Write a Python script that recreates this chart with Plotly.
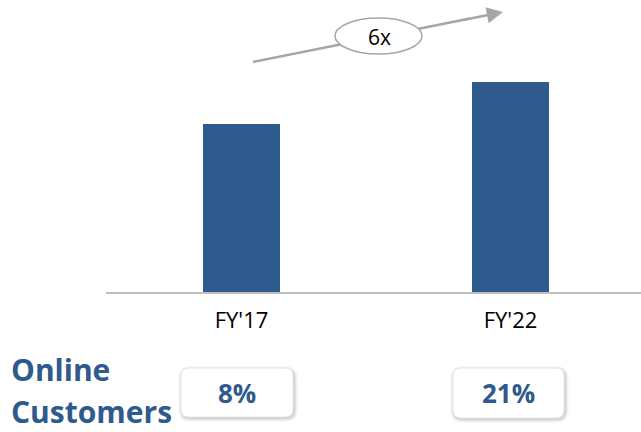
import plotly.graph_objects as go

# ---- data ----
categories = ["FY'17", "FY'22"]
bar_values = [4.0, 5.0]
online_share = ["8%", "21%"]
growth_label = "6x"
side_title = ["Online", "Customers"]

W, H = 641, 432
ML, MR, MT, MB = 106, 0, 82, 140
PW, PH = W - ML - MR, H - MT - MB

BLUE = "#2F5A8E"
GRAY = "#A6A6A6"

def px(xp):
    return (xp - ML) / PW

def py(yp):
    return (H - MB - yp) / PH

xpos = list(range(len(categories)))

fig = go.Figure()
fig.add_trace(go.Bar(
    x=xpos, y=bar_values, width=0.286,
    marker=dict(color=BLUE, line=dict(width=0)),
    hoverinfo="skip",
))

shapes = []
annotations = []

# growth arrow line (drawn first so ellipse covers it)
shapes.append(dict(type="line", xref="paper", yref="paper",
                   x0=px(253), y0=py(62), x1=px(470), y1=py(18.6),
                   line=dict(color=GRAY, width=2.5)))
shapes.append(dict(type="circle", xref="paper", yref="paper",
                   x0=px(335), x1=px(422), y0=py(54), y1=py(18),
                   fillcolor="white", line=dict(color=GRAY, width=1.5)))
annotations.append(dict(xref="paper", yref="paper", x=px(503), y=py(12),
                        ax=-40, ay=8, axref="pixel", ayref="pixel",
                        showarrow=True, arrowhead=2, arrowsize=1.3,
                        arrowwidth=2.5, arrowcolor=GRAY, text=""))
annotations.append(dict(xref="paper", yref="paper", x=px(379), y=py(37),
                        text=growth_label, showarrow=False,
                        font=dict(family="Open Sans", size=21, color="black"),
                        xanchor="center", yanchor="middle"))

# side title
annotations.append(dict(xref="paper", yref="paper", x=px(9), y=py(369),
                        text="<b>%s</b>" % side_title[0], showarrow=False,
                        font=dict(family="Open Sans", size=30, color=BLUE),
                        xanchor="left", yanchor="middle"))
annotations.append(dict(xref="paper", yref="paper", x=px(9), y=py(411),
                        text="<b>%s</b>" % side_title[1], showarrow=False,
                        font=dict(family="Open Sans", size=30, color=BLUE),
                        xanchor="left", yanchor="middle"))

def rrect(x0, y0, x1, y1, r):
    # pixel coordinates in, paper-coordinate SVG path out
    pts = lambda x, y: f"{px(x)},{py(y)}"
    return (f"M {pts(x0+r, y0)} L {pts(x1-r, y0)} Q {pts(x1, y0)} {pts(x1, y0+r)} "
            f"L {pts(x1, y1-r)} Q {pts(x1, y1)} {pts(x1-r, y1)} L {pts(x0+r, y1)} "
            f"Q {pts(x0, y1)} {pts(x0, y1-r)} L {pts(x0, y0+r)} Q {pts(x0, y0)} {pts(x0+r, y0)} Z")

boxes = [(181, 368, 293, 417), (453, 368, 564, 418)]
for (bx0, by0, bx1, by1), label in zip(boxes, online_share):
    # soft shadow (mostly down-right)
    for g, a in [(4, 0.025), (3, 0.035), (2, 0.05), (1, 0.07)]:
        shapes.append(dict(type="path", xref="paper", yref="paper",
                           path=rrect(bx0 - g + 1, by0 - g + 2, bx1 + g + 1, by1 + g + 1, 8 + g),
                           fillcolor=f"rgba(0,0,0,{a})", line=dict(width=0)))
    shapes.append(dict(type="path", xref="paper", yref="paper",
                       path=rrect(bx0, by0, bx1, by1, 8),
                       fillcolor="white", line=dict(color="#E6E6E6", width=1)))
    annotations.append(dict(xref="paper", yref="paper",
                            x=px((bx0 + bx1) / 2), y=py((by0 + by1) / 2),
                            text=f"<b>{label}</b>", showarrow=False,
                            font=dict(family="Open Sans", size=26, color=BLUE),
                            xanchor="center", yanchor="middle"))

fig.update_layout(
    width=W, height=H,
    margin=dict(l=ML, r=MR, t=MT, b=MB, pad=0),
    paper_bgcolor="white", plot_bgcolor="white",
    showlegend=False,
    bargap=0,
    xaxis=dict(range=[-0.5037, 1.4851], tickvals=xpos, ticktext=categories,
               showgrid=False, zeroline=False, showline=True,
               linecolor="#BFBFBF", linewidth=2, ticks="",
               tickfont=dict(family="Open Sans", size=22, color="black"),
               ticklabelstandoff=8, fixedrange=True),
    yaxis=dict(range=[0, 5], visible=False, fixedrange=True),
    shapes=shapes,
    annotations=annotations,
)

fig.write_html("out.html", config={"displayModeBar": False},
               post_script="document.body.style.margin='0';document.body.style.overflow='hidden';")
